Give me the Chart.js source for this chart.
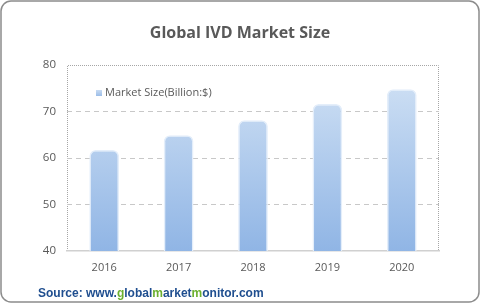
<!DOCTYPE html>
<html>
<head>
<meta charset="utf-8">
<script src="https://cdn.jsdelivr.net/npm/chart.js@4"></script>
<style>
html,body{margin:0;padding:0;background:#fff;}
#wrap{width:481px;height:304px;position:relative;}
</style>
</head>
<body>
<div id="wrap"><canvas id="c" width="481" height="304"></canvas></div>
<script>
const categories = ["2016", "2017", "2018", "2019", "2020"];
const marketSize = [61.7, 64.9, 68.1, 71.6, 74.8];
const yTicks = [40, 50, 60, 70, 80];
const seriesLabel = "Market Size(Billion:$)";
const titleText = "Global IVD Market Size";
const sourceParts = [
  ["Source: www.", "#1f4e8f"], ["g", "#6cb030"], ["lobal", "#1f4e8f"],
  ["m", "#6cb030"], ["arket", "#1f4e8f"], ["m", "#6cb030"], ["onitor.com", "#1f4e8f"]
];

const decor = {
  id: 'decor',
  beforeDraw(chart) {
    const ctx = chart.ctx;
    ctx.save();
    ctx.fillStyle = '#fff';
    ctx.fillRect(0, 0, chart.width, chart.height);
    ctx.strokeStyle = '#8c8c8c';
    ctx.lineWidth = 1.5;
    ctx.beginPath();
    ctx.roundRect(1, 1, 478, 301, 10);
    ctx.stroke();
    const a = chart.chartArea;
    ctx.strokeStyle = '#a6a6a6';
    ctx.lineWidth = 1;
    ctx.setLineDash([1, 1]);
    ctx.beginPath();
    ctx.moveTo(a.left + 0.5, a.bottom);
    ctx.lineTo(a.left + 0.5, a.top + 0.5);
    ctx.lineTo(a.right - 0.5, a.top + 0.5);
    ctx.lineTo(a.right - 0.5, a.bottom);
    ctx.stroke();
    ctx.restore();
  },
  afterDraw(chart) {
    const ctx = chart.ctx;
    ctx.save();
    ctx.fillStyle = '#595959';
    ctx.font = 'bold 16px "Open Sans", sans-serif';
    ctx.textAlign = 'center';
    ctx.textBaseline = 'middle';
    ctx.fillText(titleText, 240, 33);
    const g = ctx.createLinearGradient(0, 89, 0, 97);
    g.addColorStop(0, '#cfe0f4');
    g.addColorStop(1, '#94b8e6');
    ctx.fillStyle = g;
    ctx.fillRect(96, 90, 6, 6);
    ctx.fillStyle = '#595959';
    ctx.font = '11px "Open Sans", sans-serif';
    ctx.textAlign = 'left';
    ctx.fillText(chart.data.datasets[0].label, 105, 93);
    ctx.font = 'bold 12px "Liberation Sans", Arial, sans-serif';
    let x = 38;
    for (const [t, c] of sourceParts) {
      ctx.fillStyle = c;
      ctx.fillText(t, x, 294);
      x += ctx.measureText(t).width;
    }
    ctx.restore();
  }
};

new Chart(document.getElementById('c'), {
  type: 'bar',
  data: {
    labels: categories,
    datasets: [{
      label: seriesLabel,
      data: marketSize,
      backgroundColor(ctx) {
        const chart = ctx.chart;
        const a = chart.chartArea;
        if (!a) return '#a8c6ec';
        const g = chart.ctx.createLinearGradient(0, 65, 0, a.bottom);
        g.addColorStop(0, '#d3e3f5');
        g.addColorStop(1, '#90b5e5');
        return g;
      },
      borderColor: '#e4eefa',
      borderWidth: {top: 1.5, left: 1.5, right: 1.5, bottom: 0},
      borderSkipped: 'bottom',
      borderRadius: {topLeft: 6, topRight: 6, bottomLeft: 0, bottomRight: 0},
      barPercentage: 0.4,
      categoryPercentage: 1.0
    }]
  },
  options: {
    responsive: false,
    animation: false,
    devicePixelRatio: 1,
    layout: {padding: {left: 10, right: 42, top: 65, bottom: 0}},
    plugins: {legend: {display: false}, title: {display: false}, tooltip: {enabled: false}},
    scales: {
      x: {
        grid: {display: false, drawTicks: false},
        border: {display: true, color: '#d0d0d0', width: 1.5},
        ticks: {color: '#595959', font: {family: '"Open Sans", sans-serif', size: 11}, padding: 10},
        afterFit(s) { s.height = 53; }
      },
      y: {
        min: 40, max: 80,
        afterBuildTicks(s) { s.ticks = yTicks.map(v => ({value: v})); },
        grid: {
          color: (c) => (c.tick && (c.tick.value === 40 || c.tick.value === 80)) ? 'rgba(0,0,0,0)' : '#c8c8c8',
          drawTicks: false,
          lineWidth: 1
        },
        border: {display: false, dash: [5, 4]},
        ticks: {color: '#595959', font: {family: '"Open Sans", sans-serif', size: 11.5}, padding: 11},
        afterFit(s) { s.width = 57; }
      }
    }
  },
  plugins: [decor]
});
</script>
</body>
</html>
